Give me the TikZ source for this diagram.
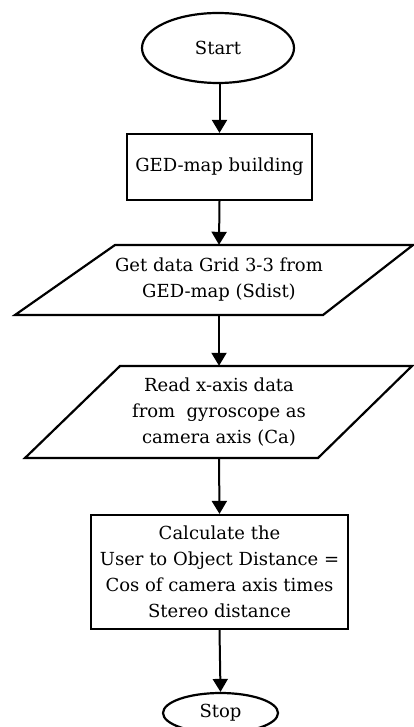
\documentclass[tikz,border=0pt]{standalone}
\usepackage{fontspec}
\setmainfont{DejaVu Serif}
\usetikzlibrary{shapes.geometric,arrows.meta}
\begin{document}
\begin{tikzpicture}[x=1pt,y=-1pt,
  every node/.style={font=\fontsize{18}{26}\selectfont, align=center, inner sep=0pt},
  outl/.style={draw=black, line width=2.2pt},
  term/.style={outl, ellipse, fill=white},
  proc/.style={outl, rectangle},
  io/.style={draw=none, rectangle},
  flow/.style={line width=2pt, -{Triangle[width=15pt,length=13pt]}}]
\useasboundingbox (0,0) rectangle (414,727);
% Start
\node[term, minimum width=152, minimum height=70] (start) at (218,48) {Start};
% GED-map building
\node[proc, minimum width=185, minimum height=66] (ged) at (219.5,167) {GED-map building};
% Parallelogram 1
\node[io, minimum width=200, minimum height=70] (get) at (219,280) {Get data Grid 3-3 from\\GED-map (Sdist)};
\coordinate (g1) at (115,245);
\coordinate (g2) at (413,245);
\coordinate (g3) at (323,315);
\coordinate (g4) at (15,315);
\draw[outl, line join=miter] (g1) -- (g2) -- (g3) -- (g4) -- cycle;
% Parallelogram 2
\node[io, minimum width=200, minimum height=92] (read) at (219,412) {Read x-axis data\\from\ \ gyroscope as\\camera axis (Ca)};
\coordinate (r1) at (120,366);
\coordinate (r2) at (412,366);
\coordinate (r3) at (318,458);
\coordinate (r4) at (25,458);
\draw[outl, line join=miter] (r1) -- (r2) -- (r3) -- (r4) -- cycle;
% Calculate
\node[proc, minimum width=257, minimum height=114] (calc) at (219.5,572) {Calculate the\\User to Object Distance =\\Cos of camera axis times\\Stereo distance};
% Stop
\node[term, minimum width=115, minimum height=40] (stop) at (220.5,713) {Stop};
% connectors
\draw[flow] (start.south -| ged.north) -- (ged.north);
\draw[flow] (ged.south) -- (get.north);
\draw[flow] (get.south) -- (read.north);
\draw[flow] (read.south) -- (calc.north);
\draw[flow] (calc.south) -- (stop.north);
\end{tikzpicture}
\end{document}
